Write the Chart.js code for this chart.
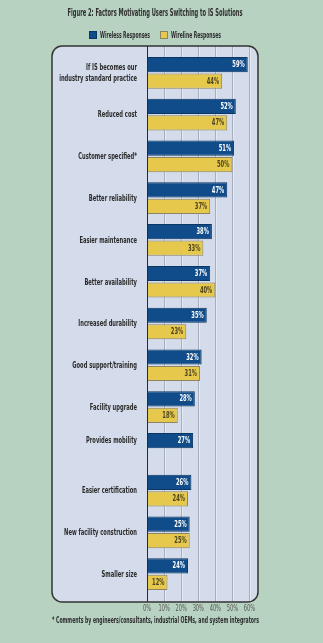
<!DOCTYPE html>
<html>
<head>
<meta charset="utf-8">
<script src="https://cdn.jsdelivr.net/npm/chart.js@4"></script>
<style>
  html, body { margin: 0; padding: 0; background: #b8d2c2; }
  #wrap { position: relative; width: 323px; height: 643px; }
</style>
</head>
<body>
<div id="wrap"><canvas id="chart"></canvas></div>
<script>
/* ── Data ───────────────────────────────────────────────── */

const categories = [
  ['If IS becomes our', 'industry standard practice'],
  'Reduced cost',
  'Customer specified*',
  'Better reliability',
  'Easier maintenance',
  'Better availability',
  'Increased durability',
  'Good support/training',
  'Facility upgrade',
  'Provides mobility',
  'Easier certification',
  'New facility construction',
  'Smaller size',
];
const wireless = [59, 52, 51, 47, 38, 37, 35, 32, 28, 27, 26, 25, 24];
const wireline = [44, 47, 50, 37, 33, 40, 23, 31, 18, null, 24, 25, 12];
const xTicks = [0, 10, 20, 30, 40, 50, 60];

const TITLE = 'Figure 2: Factors Motivating Users Switching to IS Solutions';
const FOOTNOTE = '* Comments by engineers/consultants, industrial OEMs, and system integrators';

/* ── Styling ────────────────────────────────────────────── */

const FONT = "'DejaVu Sans Condensed', 'Liberation Sans', sans-serif";
const BG = '#b8d2c2';
const PANEL = '#d4dbea';
const BLUE = '#0f4c89';
const YELLOW = '#e6c84c';
const PANEL_BOX = { left: 52, top: 46, right: 258, bottom: 602, radius: 10 };
const SQUEEZE = 0.64; // horizontal squeeze to mimic the condensed face

// draw text squeezed horizontally around its anchor
function squeezedText(ctx, text, x, y, align, sx) {
  ctx.save();
  ctx.translate(x, y);
  ctx.scale(sx, 1);
  ctx.textAlign = align;
  ctx.fillText(text, 0, 0);
  ctx.restore();
}

/* ── Plugin: background, panel, title, legend, grid, labels ── */

const figurePlugin = {
  id: 'figure',
  beforeDraw(chart) {
    const ctx = chart.ctx;
    const p = PANEL_BOX;
    ctx.save();
    ctx.fillStyle = BG;
    ctx.fillRect(0, 0, chart.width, chart.height);

    ctx.beginPath();
    ctx.roundRect(p.left, p.top, p.right - p.left, p.bottom - p.top, p.radius);
    ctx.fillStyle = PANEL;
    ctx.fill();

    // title
    ctx.fillStyle = '#2d2d2d';
    ctx.font = `bold 11px ${FONT}`;
    ctx.textAlign = 'center';
    ctx.textBaseline = 'middle';
    ctx.fillText(TITLE, 155, 13.5, 175);

    // legend, from the datasets
    const legendX = [89, 160];
    ctx.font = `bold 9.5px ${FONT}`;
    ctx.textAlign = 'left';
    chart.data.datasets.forEach((ds, i) => {
      const x = legendX[i];
      ctx.fillStyle = ds.backgroundColor;
      ctx.fillRect(x, 31, 8, 8);
      ctx.strokeStyle = ds.borderColor;
      ctx.lineWidth = 1;
      ctx.strokeRect(x + 0.5, 31.5, 7, 7);
      ctx.fillStyle = '#2d2d2d';
      ctx.fillText(ds.label, x + 11, 35.5, 50);
    });

    // footnote
    ctx.textAlign = 'center';
    ctx.font = `bold 9px ${FONT}`;
    ctx.fillText(FOOTNOTE, 155.5, 621, 207);
    ctx.restore();
  },
  beforeDatasetsDraw(chart) {
    const ctx = chart.ctx;
    const p = PANEL_BOX;
    const xs = chart.scales.x;
    ctx.save();
    xTicks.forEach(v => {
      if (v === 0) return;
      const x = Math.round(xs.getPixelForValue(v)) + 0.5;
      ctx.strokeStyle = '#a7aebf';
      ctx.lineWidth = 1;
      ctx.beginPath();
      ctx.moveTo(x, p.top);
      ctx.lineTo(x, p.bottom);
      ctx.stroke();
      ctx.strokeStyle = '#e4e9f2';
      ctx.beginPath();
      ctx.moveTo(x + 1, p.top);
      ctx.lineTo(x + 1, p.bottom);
      ctx.stroke();
    });
    ctx.restore();
  },
  afterDatasetsDraw(chart) {
    const ctx = chart.ctx;
    const p = PANEL_BOX;
    const xs = chart.scales.x;
    const ys = chart.scales.y;
    const blueMeta = chart.getDatasetMeta(0);
    ctx.save();
    ctx.textBaseline = 'middle';

    // category labels, right-aligned against the axis
    ctx.font = `bold 9px ${FONT}`;
    ctx.fillStyle = '#2a2a2a';
    const labelRight = ys.right - 10;
    categories.forEach((cat, i) => {
      // a lone bar gets its label beside it
      const cy = wireline[i] == null ? blueMeta.data[i].y : ys.getPixelForValue(i);
      const lines = Array.isArray(cat) ? cat : [cat];
      const lh = 11;
      lines.forEach((line, k) => {
        const y = cy + (k - (lines.length - 1) / 2) * lh + 0.5;
        squeezedText(ctx, line, labelRight, y, 'right', SQUEEZE);
      });
    });

    // x tick labels
    ctx.font = `8px ${FONT}`;
    ctx.fillStyle = '#555555';
    xTicks.forEach(v => {
      squeezedText(ctx, v + '%', xs.getPixelForValue(v), 609, 'center', 0.7);
    });

    // value labels
    ctx.font = `bold 8px ${FONT}`;
    chart.data.datasets.forEach((ds, di) => {
      chart.getDatasetMeta(di).data.forEach((bar, i) => {
        const v = ds.data[i];
        if (v == null) return;
        ctx.fillStyle = di === 0 ? '#ffffff' : '#4a4220';
        squeezedText(ctx, v + '%', bar.x - 3, bar.y + 0.5, 'right', 0.72);
      });
    });

    // axis line at 0 and panel border
    const x0 = Math.round(xs.getPixelForValue(0)) + 0.5;
    ctx.strokeStyle = '#2a2a2a';
    ctx.lineWidth = 1;
    ctx.beginPath();
    ctx.moveTo(x0, p.top);
    ctx.lineTo(x0, p.bottom);
    ctx.stroke();

    ctx.beginPath();
    ctx.roundRect(p.left, p.top, p.right - p.left, p.bottom - p.top, p.radius);
    ctx.strokeStyle = '#333333';
    ctx.lineWidth = 1.5;
    ctx.stroke();
    ctx.restore();
  },
};

/* ── Chart ──────────────────────────────────────────────── */

// eslint-disable-next-line no-undef
new Chart(document.getElementById('chart'), {
  type: 'bar',
  data: {
    labels: categories,
    datasets: [
      {
        label: 'Wireless Responses',
        data: wireless,
        backgroundColor: BLUE,
        borderColor: '#0a3663',
        borderWidth: 1,
        categoryPercentage: 0.79,
        barPercentage: 0.92,
      },
      {
        label: 'Wireline Responses',
        data: wireline,
        backgroundColor: YELLOW,
        borderColor: '#8c8462',
        borderWidth: 1,
        categoryPercentage: 0.79,
        barPercentage: 0.92,
      },
    ],
  },
  options: {
    indexAxis: 'y',
    responsive: true,
    maintainAspectRatio: false,
    animation: false,
    layout: { padding: { left: 0, right: 65, top: 52, bottom: 28 } },
    plugins: {
      legend: { display: false },
      title: { display: false },
      tooltip: { enabled: false },
    },
    scales: {
      x: {
        min: 0,
        max: 65,
        afterFit: (s) => { s.height = 20; },
        afterBuildTicks: (s) => { s.ticks = xTicks.map(v => ({ value: v })); },
        grid: { display: false, drawTicks: false },
        border: { display: false },
        ticks: { display: false },
      },
      y: {
        afterFit: (s) => { s.width = 147; },
        grid: { display: false, drawTicks: false },
        border: { display: false },
        ticks: { display: false },
      },
    },
  },
  plugins: [figurePlugin],
});
</script>
</body>
</html>
